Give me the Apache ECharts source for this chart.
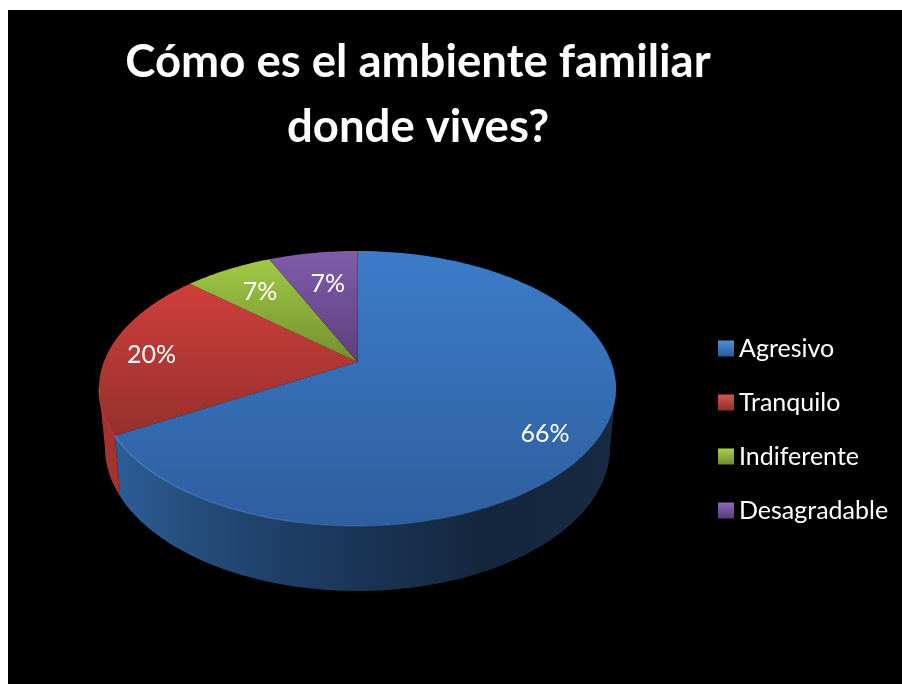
<!DOCTYPE html>
<html>
<head>
<meta charset="utf-8">
<style>html,body{margin:0;padding:0;background:#fff}#c{width:902px;height:684px}</style>
<script src="https://cdn.jsdelivr.net/npm/echarts@6/dist/echarts.min.js"></script>
</head>
<body>
<div id="c"></div>
<script>
const titleText = 'Cómo es el ambiente familiar\ndonde vives?';
const categories = ['Agresivo', 'Tranquilo', 'Indiferente', 'Desagradable'];
const values = [66.6, 20, 6.7, 6.7];
const percentLabels = ['66%', '20%', '7%', '7%'];

const G = echarts.graphic;
// Perspective ellipse model of the tilted pie
const CX = 357.5, CY = 362, A = 253.7, B = 132.4, K = 0.1927;
const BX = 0.977, BY = 1.045, BY0 = 419.6;
const LABEL_R = 0.8;
const labelNudge = [[-3, 15], [-7, 3], [9, 6], [7, 12]];
const topStops = [['#3c7cc8', '#2e5e9f'], ['#cf3f3b', '#96302d'], ['#a0c945', '#748f2e'], ['#805cab', '#5d3f7e']];
const legendStops = [['#4f8fd8', '#2a5a98'], ['#d85450', '#8f2e2b'], ['#aad250', '#6f8a2c'], ['#8e6ab8', '#573b76']];
const edgeColors = ['rgba(90,150,225,', 'rgba(190,70,65,', 'rgba(170,210,80,', 'rgba(140,105,190,'];
const sideStops = [
  [[0, '#2d5f9e'], [0.15, '#26507f'], [0.3, '#20426d'], [0.5, '#1a3456'], [0.75, '#14263d'], [1, '#172a42']],
  [[0, '#a5332f'], [1, '#7c2825']],
  [[0, '#748f2e'], [1, '#5c7224']],
  [[0, '#5d3f7e'], [1, '#4a3265']]
];

function proj(deg, f) {
  const t = deg * Math.PI / 180, s = Math.sin(t) * f, c = Math.cos(t) * f, w = 1 + K * c;
  return [CX + A * s / w, CY - B * c / w];
}
function lower(p) { return [CX + BX * (p[0] - CX), BY0 + BY * (p[1] - CY)]; }
function arc(a0, a1) {
  const pts = [], n = Math.max(2, Math.ceil(Math.abs(a1 - a0)));
  for (let i = 0; i <= n; i++) pts.push(proj(a0 + (a1 - a0) * i / n, 1));
  return pts;
}

const total = values.reduce((a, b) => a + b, 0);
let running = 0;
const series = categories.map((name, idx) => {
  const start = running;
  running += values[idx];
  return {
    type: 'custom',
    name,
    coordinateSystem: 'none',
    itemStyle: { color: new G.LinearGradient(0, 0, 0, 1, [{ offset: 0, color: legendStops[idx][0] }, { offset: 1, color: legendStops[idx][1] }]) },
    data: [[values[idx], start]],
    silent: true,
    renderItem(params, api) {
      const a0 = api.value(1) / total * 360, a1 = a0 + api.value(0) / total * 360;
      const children = [];
      // side wall
      const f0 = Math.max(a0, 101), f1 = Math.min(a1, 259);
      if (f1 > f0) {
        const top = arc(f0, f1), bottom = top.map(lower).reverse();
        children.push({
          type: 'polygon', z2: 1,
          shape: { points: top.concat(bottom) },
          style: { fill: new G.LinearGradient(105, 0, 612, 0, sideStops[idx].map(s => ({ offset: s[0], color: s[1] })), true) }
        });
      }
      // top face
      const rim = arc(a0, a1), ys = rim.map(p => p[1]).concat([CY]);
      children.push({
        type: 'polygon', z2: 2,
        shape: { points: [[CX, CY]].concat(rim) },
        style: {
          fill: new G.LinearGradient(0, Math.min(...ys), 0, Math.max(...ys),
            [{ offset: 0, color: topStops[idx][0] }, { offset: 1, color: topStops[idx][1] }], true)
        }
      });
      // lit front rim
      if (f1 > f0) {
        children.push({
          type: 'polyline', z2: 3,
          shape: { points: arc(f0, f1) },
          style: {
            fill: 'none', lineWidth: 1.2,
            stroke: new G.LinearGradient(110, 0, 520, 0, [
              { offset: 0, color: edgeColors[idx] + '0.7)' },
              { offset: 0.5, color: edgeColors[idx] + '0.4)' },
              { offset: 1, color: edgeColors[idx] + '0)' }], true)
          }
        });
      }
      // percentage label
      const lp = proj((a0 + a1) / 2, LABEL_R);
      children.push({
        type: 'text', z2: 4,
        x: lp[0] + labelNudge[idx][0], y: lp[1] + labelNudge[idx][1],
        style: { text: percentLabels[params.seriesIndex], fill: '#fff', font: '25px Lato', align: 'center', verticalAlign: 'middle' }
      });
      return { type: 'group', children };
    }
  };
});

const chart = echarts.init(document.getElementById('c'), null, { renderer: 'canvas' });
chart.setOption({
  animation: false,
  backgroundColor: '#fff',
  title: {
    text: titleText, left: 413, top: 25, textAlign: 'center',
    textStyle: { color: '#fff', fontFamily: 'Lato', fontWeight: 'bold', fontSize: 45.5, lineHeight: 65 }
  },
  legend: {
    orient: 'vertical', left: 713, top: 331, itemWidth: 16, itemHeight: 16, itemGap: 29,
    icon: 'rect', selectedMode: false, data: categories,
    textStyle: { color: '#fff', fontFamily: 'Lato', fontSize: 25 }
  },
  graphic: [{ type: 'rect', silent: true, z: -10, shape: { x: 8, y: 10, width: 894, height: 674 }, style: { fill: '#000' } }],
  series
});
</script>
</body>
</html>
